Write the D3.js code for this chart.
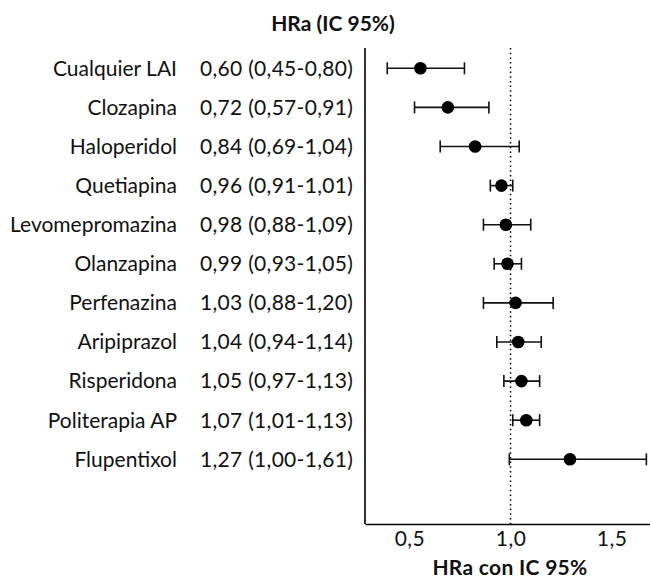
<!DOCTYPE html>
<html>
<head>
<meta charset="utf-8">
<script src="https://cdn.jsdelivr.net/npm/d3@7"></script>
<style>
  html, body { margin: 0; padding: 0; background: #fff; }
  svg { display: block; }
  text { font-family: Lato, "Open Sans", sans-serif; fill: #111; }
</style>
</head>
<body>
<svg id="chart" width="650" height="581"></svg>
<script>
// ---- data ----
const categories = ["Cualquier LAI", "Clozapina", "Haloperidol", "Quetiapina", "Levomepromazina",
  "Olanzapina", "Perfenazina", "Aripiprazol", "Risperidona", "Politerapia AP", "Flupentixol"];
const hrText = ["0,60 (0,45-0,80)", "0,72 (0,57-0,91)", "0,84 (0,69-1,04)", "0,96 (0,91-1,01)",
  "0,98 (0,88-1,09)", "0,99 (0,93-1,05)", "1,03 (0,88-1,20)", "1,04 (0,94-1,14)",
  "1,05 (0,97-1,13)", "1,07 (1,01-1,13)", "1,27 (1,00-1,61)"];
// plotted positions
const hr    = [0.554, 0.690, 0.825, 0.955, 0.977, 0.985, 1.025, 1.038, 1.054, 1.078, 1.294];
const lower = [0.390, 0.525, 0.652, 0.900, 0.866, 0.919, 0.866, 0.932, 0.967, 1.011, 0.994];
const upper = [0.772, 0.893, 1.043, 1.011, 1.100, 1.054, 1.211, 1.152, 1.144, 1.144, 1.672];
const xTicks = [0.5, 1.0, 1.5];
const refValue = 1.0;
const title = "HRa (IC 95%)";
const xTitle = "HRa con IC 95%";

const rows = categories.map((c, i) => ({ cat: c, txt: hrText[i], hr: hr[i], lo: lower[i], hi: upper[i] }));

const svg = d3.select("#chart");
const FS = 21;

const x = d3.scaleLinear().domain([0.28, 1.69]).range([365, 650]);
const y = d3.scalePoint().domain(categories).range([68.3, 459.3]);
const plotTop = 48, plotBottom = 524;

// title
svg.append("text").attr("x", 333).attr("y", 31).attr("text-anchor", "middle")
  .style("font-weight", "bold").style("font-size", FS + "px").text(title);

// labels
svg.append("g").selectAll("text").data(rows).join("text")
  .attr("x", 177).attr("y", d => y(d.cat)).attr("dy", "0.35em")
  .attr("text-anchor", "end").style("font-size", FS + "px").text(d => d.cat);
svg.append("g").selectAll("text").data(rows).join("text")
  .attr("x", 200).attr("y", d => y(d.cat)).attr("dy", "0.35em")
  .attr("text-anchor", "start").style("font-size", FS + "px").style("letter-spacing", "0.3px").text(d => d.txt);

// left frame line
svg.append("line").attr("x1", 365).attr("x2", 365).attr("y1", plotTop).attr("y2", plotBottom)
  .attr("stroke", "#000").attr("stroke-width", 1.6);

// x axis
const xAxis = svg.append("g").attr("transform", `translate(0,${plotBottom})`)
  .call(d3.axisBottom(x).tickValues(xTicks).tickSize(0).tickSizeOuter(0).tickPadding(7)
    .tickFormat(d => d3.format(".1f")(d).replace(".", ",")));
xAxis.select(".domain").attr("stroke", "#000").attr("stroke-width", 1.6);
xAxis.selectAll("text").style("font-size", FS + "px").style("font-family", "Lato, sans-serif")
  .style("letter-spacing", "0.5px").attr("fill", "#111");

svg.append("text").attr("x", 510).attr("y", 575).attr("text-anchor", "middle")
  .style("font-weight", "bold").style("font-size", "21px").style("letter-spacing", "0.3px").text(xTitle);

// reference line
svg.append("line").attr("x1", x(refValue)).attr("x2", x(refValue)).attr("y1", plotTop).attr("y2", plotBottom)
  .attr("stroke", "#000").attr("stroke-width", 1.5).attr("stroke-dasharray", "1.5,3.2");

// error bars
const g = svg.append("g");
const capH = 6;
g.selectAll("line.ci").data(rows).join("line").attr("class", "ci")
  .attr("x1", d => x(d.lo)).attr("x2", d => x(d.hi)).attr("y1", d => y(d.cat)).attr("y2", d => y(d.cat))
  .attr("stroke", "#111").attr("stroke-width", 1.6);
g.selectAll("line.capl").data(rows).join("line").attr("class", "capl")
  .attr("x1", d => x(d.lo)).attr("x2", d => x(d.lo)).attr("y1", d => y(d.cat) - capH).attr("y2", d => y(d.cat) + capH)
  .attr("stroke", "#111").attr("stroke-width", 1.6);
g.selectAll("line.capr").data(rows).join("line").attr("class", "capr")
  .attr("x1", d => x(d.hi)).attr("x2", d => x(d.hi)).attr("y1", d => y(d.cat) - capH).attr("y2", d => y(d.cat) + capH)
  .attr("stroke", "#111").attr("stroke-width", 1.6);
g.selectAll("circle").data(rows).join("circle")
  .attr("cx", d => x(d.hr)).attr("cy", d => y(d.cat)).attr("r", 6.3).attr("fill", "#000");
</script>
</body>
</html>
